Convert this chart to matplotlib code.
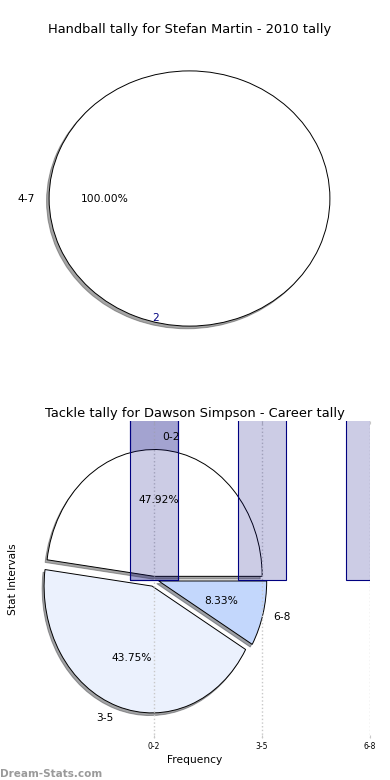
import matplotlib
matplotlib.use("Agg")
import matplotlib.pyplot as plt

# top chart: handball
hb_title = "Handball tally for Stefan Martin - 2010 tally"
hb_labels = ["4-7"]
hb_values = [2]

# bottom chart: tackles
tk_title = "Tackle tally for Dawson Simpson - Career tally"
tk_labels = ["0-2", "3-5", "6-8"]
tk_values = [23, 21, 4]
tk_colors = ["#ffffff", "#ebf1fd", "#c3d7fc"]
tk_explode = [0.025, 0.055, 0.045]

fs = 7.7
title_fs = 9.4
bar_face = (0, 0, 0.5, 0.2)
shadow = dict(ox=-0.013, oy=-0.015)

fig = plt.figure(figsize=(3.9, 7.8), dpi=100)

# --- top pie ---
ax1 = fig.add_axes([14 / 390, 1 - 358 / 780, 351 / 390, 319 / 780])
ax1.pie(hb_values, labels=hb_labels, autopct="%.2f%%", startangle=0,
        shadow=shadow, colors=["white"],
        wedgeprops=dict(edgecolor="black", linewidth=0.7),
        textprops=dict(fontsize=fs))
ax1.set_aspect("auto")
ax1.set_xlim(-1.25, 1.25)
ax1.set_ylim(-1.25, 1.25)
ax1.text(-0.242, -0.937, str(hb_values[0]), color="navy",
         ha="center", va="center", fontsize=fs)
ax1.set_title(hb_title, fontsize=title_fs, pad=4)

# --- bottom pie + bars ---
ax2 = fig.add_axes([19 / 390, 1 - 738 / 780, 351 / 390, 317 / 780])
x = list(range(len(tk_labels)))
ax2.bar(x[:1], tk_values[:1], width=0.45, color=bar_face,
        edgecolor="navy", linewidth=0.8, zorder=0.5)
ax2.pie(tk_values, labels=tk_labels, autopct="%.2f%%", startangle=0,
        explode=tk_explode, shadow=shadow, colors=tk_colors,
        wedgeprops=dict(edgecolor="black", linewidth=0.7),
        textprops=dict(fontsize=fs), frame=True)
ax2.bar(x, tk_values, width=0.45, color=bar_face,
        edgecolor="navy", linewidth=0.8, zorder=2)
ax2.set_aspect("auto")
ax2.set_xlim(-1.25, 2.0)
ax2.set_ylim(-1.25, 1.25)
ax2.set_xticks(x, tk_labels)
ax2.set_yticks([])
ax2.grid(axis="x", color="#c8c8c8", linestyle=":", linewidth=1)
for s in ax2.spines.values():
    s.set_visible(False)
ax2.tick_params(axis="x", labelsize=5.5, length=2, color="#c8c8c8",
                top=True, direction="in", pad=3)
ax2.set_xlabel("Frequency", fontsize=fs, labelpad=3)
ax2.set_ylabel("Stat Intervals", fontsize=fs, labelpad=1)
ax2.set_title(tk_title, fontsize=title_fs, pad=3)

fig.text(0.0, 0.004, "Dream-Stats.com", color="#9a9a9a", fontsize=7.5,
         fontweight="bold")

fig.savefig("out.png", dpi=100)
